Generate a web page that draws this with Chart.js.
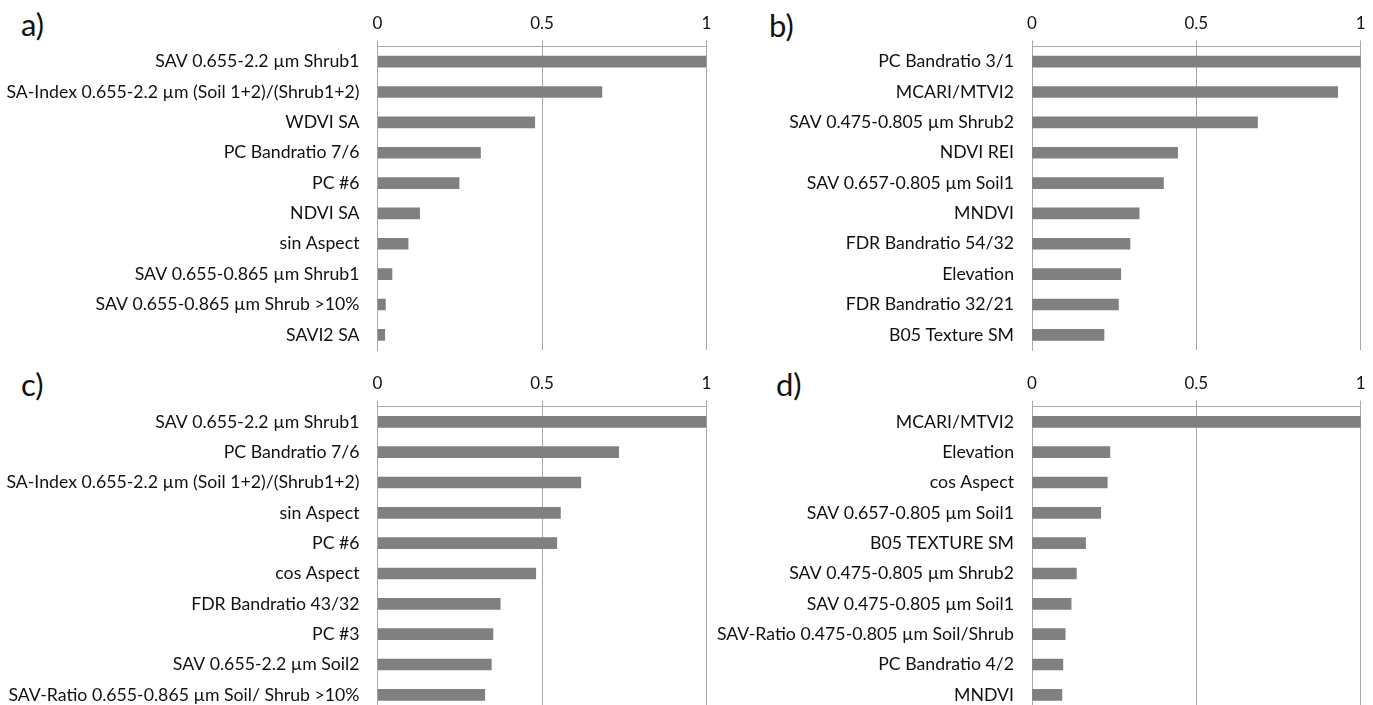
<!DOCTYPE html>
<html>
<head>
<meta charset="utf-8">
<script src="https://cdn.jsdelivr.net/npm/chart.js@4.4.1/dist/chart.umd.min.js"></script>
<style>
  html, body { margin: 0; padding: 0; background: #fff; width: 1373px; height: 705px; overflow: hidden; }
  .panel { position: absolute; }
  .tag { position: absolute; font-family: Lato, "Open Sans", sans-serif; font-size: 31px; line-height: 1; color: #111; }
</style>
</head>
<body>
<div class="tag" style="left:21px;top:9px">a)</div>
<div class="tag" style="left:769px;top:10px">b)</div>
<div class="tag" style="left:21px;top:369px">c)</div>
<div class="tag" style="left:776px;top:369px">d)</div>

<canvas id="chartA" class="panel" style="left:0px;top:0px" width="716" height="352"></canvas>
<canvas id="chartB" class="panel" style="left:712px;top:0px" width="661" height="352"></canvas>
<canvas id="chartC" class="panel" style="left:0px;top:352px" width="716" height="362"></canvas>
<canvas id="chartD" class="panel" style="left:712px;top:352px" width="661" height="362"></canvas>

<script>
// Shared value axis ticks
const tickValues = [0, 0.5, 1];

// a) variable importance
const labelsA = [
  'SAV 0.655-2.2 µm Shrub1',
  'SA-Index 0.655-2.2 µm (Soil 1+2)/(Shrub1+2)',
  'WDVI SA',
  'PC Bandratio 7/6',
  'PC #6',
  'NDVI SA',
  'sin Aspect',
  'SAV 0.655-0.865 µm Shrub1',
  'SAV 0.655-0.865 µm Shrub >10%',
  'SAVI2 SA'
];
const valuesA = [1.0, 0.682, 0.478, 0.313, 0.248, 0.128, 0.093, 0.044, 0.024, 0.022];

// b) variable importance
const labelsB = [
  'PC Bandratio 3/1',
  'MCARI/MTVI2',
  'SAV 0.475-0.805 µm Shrub2',
  'NDVI REI',
  'SAV 0.657-0.805 µm Soil1',
  'MNDVI',
  'FDR Bandratio 54/32',
  'Elevation',
  'FDR Bandratio 32/21',
  'B05 Texture SM'
];
const valuesB = [1.0, 0.93, 0.686, 0.443, 0.40, 0.326, 0.298, 0.27, 0.263, 0.219];

// c) variable importance
const labelsC = [
  'SAV 0.655-2.2 µm Shrub1',
  'PC Bandratio 7/6',
  'SA-Index 0.655-2.2 µm (Soil 1+2)/(Shrub1+2)',
  'sin Aspect',
  'PC #6',
  'cos Aspect',
  'FDR Bandratio 43/32',
  'PC #3',
  'SAV 0.655-2.2 µm Soil2',
  'SAV-Ratio 0.655-0.865 µm Soil/ Shrub >10%'
];
const valuesC = [1.0, 0.733, 0.618, 0.556, 0.545, 0.481, 0.373, 0.351, 0.346, 0.326];

// d) variable importance
const labelsD = [
  'MCARI/MTVI2',
  'Elevation',
  'cos Aspect',
  'SAV 0.657-0.805 µm Soil1',
  'B05 TEXTURE SM',
  'SAV 0.475-0.805 µm Shrub2',
  'SAV 0.475-0.805 µm Soil1',
  'SAV-Ratio 0.475-0.805 µm Soil/Shrub',
  'PC Bandratio 4/2',
  'MNDVI'
];
const valuesD = [1.0, 0.237, 0.229, 0.209, 0.163, 0.135, 0.119, 0.101, 0.094, 0.091];

const FONT = 'Lato, "Open Sans", sans-serif';
const GRID = '#a9a9a9';
const BAR = '#808080';
const TEXT = '#111';

function makeChart(id, labels, values, box) {
  return new Chart(document.getElementById(id), {
    type: 'bar',
    data: {
      labels: labels,
      datasets: [{ data: values, backgroundColor: BAR, borderWidth: 0, barThickness: 11 }]
    },
    options: {
      indexAxis: 'y',
      responsive: false,
      animation: false,
      events: [],
      layout: { padding: { left: 0, top: 0, right: box.padRight, bottom: box.padBottom } },
      plugins: { legend: { display: false }, tooltip: { enabled: false } },
      scales: {
        x: {
          type: 'linear',
          position: 'top',
          min: 0,
          max: 1,
          afterBuildTicks: s => { s.ticks = tickValues.map(v => ({ value: v })); },
          afterFit: s => { s.height = box.axisTop; s.paddingLeft = 0; s.paddingRight = 0; },
          grid: { display: true, color: GRID, lineWidth: 1, drawTicks: true, tickLength: 6 },
          border: { display: true, color: GRID, width: 1 },
          ticks: {
            padding: 7,
            color: TEXT,
            font: { family: FONT, size: 17 },
            callback: v => String(v)
          }
        },
        y: {
          type: 'category',
          afterFit: s => { s.width = box.axisLeft; s.paddingTop = 0; s.paddingBottom = 0; },
          grid: { display: false, drawTicks: false },
          border: { display: true, color: GRID, width: 1 },
          ticks: { padding: 18, color: TEXT, autoSkip: false, font: { family: FONT, size: 17.7 } }
        }
      }
    }
  });
}

function drawAll() {
  makeChart('chartA', labelsA, valuesA, { axisLeft: 377.5, axisTop: 46.5, padRight: 9.5, padBottom: 2 });
  makeChart('chartB', labelsB, valuesB, { axisLeft: 320, axisTop: 46.5, padRight: 12.3, padBottom: 2 });
  makeChart('chartC', labelsC, valuesC, { axisLeft: 377.5, axisTop: 54.7, padRight: 9.5, padBottom: 4 });
  makeChart('chartD', labelsD, valuesD, { axisLeft: 320, axisTop: 54.7, padRight: 12.3, padBottom: 4 });
}

if (document.fonts && document.fonts.load) {
  Promise.all([document.fonts.load('17px Lato'), document.fonts.load('31px Lato')]).then(drawAll, drawAll);
} else {
  drawAll();
}
</script>
</body>
</html>
